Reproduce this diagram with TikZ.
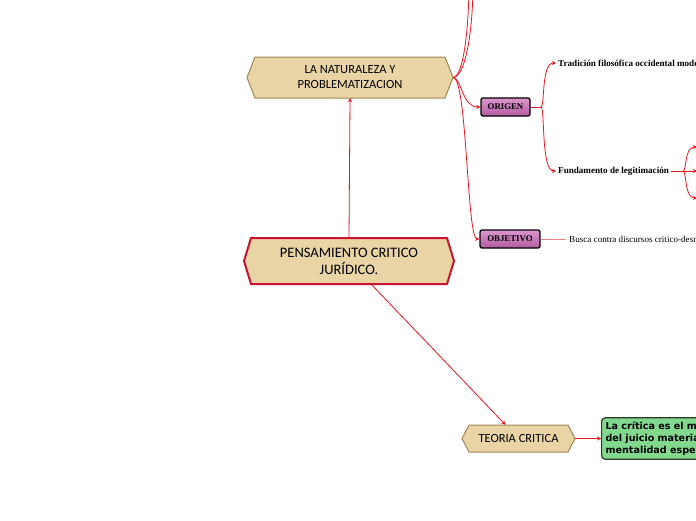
\documentclass[tikz,border=0pt]{standalone}
\usepackage{fontspec}
\setmainfont{Liberation Serif}
\newfontfamily\hexfont{Carlito}
\newfontfamily\boxfont{DejaVu Sans}
\usetikzlibrary{arrows.meta}
\definecolor{tan}{RGB}{233,212,166}
\definecolor{tanline}{RGB}{160,136,84}
\definecolor{crimson}{RGB}{200,20,48}
\definecolor{conn}{RGB}{232,22,32}
\definecolor{pinkline}{RGB}{240,130,130}
\definecolor{purpT}{RGB}{220,150,205}
\definecolor{purpB}{RGB}{178,92,160}
\definecolor{greenfill}{RGB}{130,216,142}
\definecolor{greenline}{RGB}{40,60,40}
\tikzset{
  hexshape/.style={fill=tan, draw=tanline, line width=1pt, line join=miter},
  hexmain/.style={fill=tan, draw=crimson, line width=2pt, line join=miter},
  hextext/.style={inner sep=0pt, align=center, font=\hexfont},
  tagbox/.style={draw=black, line width=1.3pt, rounded corners=2pt, top color=purpT, bottom color=purpB, inner sep=0pt, font=\bfseries\fontsize{8.8}{10}\selectfont},
  plaintext/.style={inner sep=2pt, anchor=west},
  conline/.style={draw=conn, line width=0.8pt},
  conarrow/.style={conline, -{Stealth[length=4pt,width=4pt]}},
}
\newcommand\hexpath[6]{% x, y, hw, hh, d, style
  \path[#6] (#1-#3,#2) -- (#1-#3+#5,#2-#4) -- (#1+#3-#5,#2-#4) -- (#1+#3,#2) -- (#1+#3-#5,#2+#4) -- (#1-#3+#5,#2+#4) -- cycle;}
\begin{document}
\begin{tikzpicture}[x=1pt,y=-1pt]
\useasboundingbox (0,0) rectangle (696,520);
\clip (0,0) rectangle (696,520);
\fill[white] (0,0) rectangle (696,520);

% hexagon nodes
\hexpath{350}{77.5}{103}{20.5}{8}{hexshape}
\node[hextext, minimum width=206pt, minimum height=41pt, font=\hexfont\fontsize{12.5}{15}\selectfont] (nat) at (350,77.5) {LA NATURALEZA Y\\PROBLEMATIZACION};

\hexpath{349}{261}{105}{23}{7}{hexmain}
\node[hextext, minimum width=210pt, minimum height=46pt, font=\hexfont\fontsize{14.5}{17}\selectfont] (pens) at (349,261) {PENSAMIENTO CRITICO\\JURÍDICO.};

\hexpath{518.5}{438.5}{56.5}{13.5}{7}{hexshape}
\node[hextext, minimum width=113pt, minimum height=27pt, font=\hexfont\fontsize{12.5}{15}\selectfont] (teo) at (518.5,438.5) {TEORIA CRITICA};

% green box
\node[draw=greenline, line width=1.2pt, fill=greenfill, rounded corners=4pt, anchor=west, minimum height=41pt, text width=150pt, inner sep=4pt, align=left, font=\boxfont\bfseries\fontsize{9.6}{12}\selectfont] (crit) at (601,438.5) {La crítica es el m\\del juicio materia\\mentalidad espec};

% tag boxes
\node[tagbox, minimum width=49pt, minimum height=18pt] (origen) at (505.5,107) {ORIGEN};
\node[tagbox, minimum width=60pt, minimum height=18pt] (objetivo) at (510,239) {OBJETIVO};

% texts
\node[plaintext, font=\bfseries\fontsize{9.1}{10}\selectfont] (trad) at (556,63) {Tradición filosófica occidental mode};
\node[plaintext, font=\bfseries\fontsize{9.1}{10}\selectfont] (fund) at (556,171) {Fundamento de legitimación};
\node[plaintext, inner sep=3pt, font=\fontsize{9.1}{10}\selectfont] (busca) at (566,239) {Busca contra discursos critico-desn};

% coordinates
\coordinate (up1) at (469,-10);
\coordinate (up2) at (473,-10);
\coordinate (ofork) at (541,107);
\coordinate (ffork) at (683,171);
\coordinate (r1) at (697,147);
\coordinate (r2) at (697,171);
\coordinate (r3) at (697,198);

% connectors
\draw[conarrow] (pens.north) -- (nat.south);
\draw[conarrow] (pens) -- (teo);
\draw[conarrow] (teo.east) -- (crit.west);

\draw[conline] (nat.east) .. controls (462,77) and (468,40) .. (up1);
\draw[conline] (nat.east) .. controls (464,77) and (472,40) .. (up2);
\draw[conarrow] (nat.east) .. controls (462,79) and (462,107) .. (origen.west);
\draw[conarrow] (nat.east) .. controls (467,77) and (467,239) .. (objetivo.west);

\draw[conline] (origen.east) -- (ofork);
\draw[conarrow] (ofork) .. controls (545,107) and (541,63) .. (trad.west);
\draw[conarrow] (ofork) .. controls (545,107) and (541,171) .. (fund.west);

\draw[draw=pinkline, line width=0.8pt] (objetivo.east) -- (busca.west);

\draw[conline] (fund.east) -- (ffork);
\draw[conarrow] (ffork) .. controls (687,171) and (684,147) .. (r1);
\draw[conarrow] (ffork) -- (r2);
\draw[conarrow] (ffork) .. controls (687,171) and (684,198) .. (r3);
\end{tikzpicture}
\end{document}
